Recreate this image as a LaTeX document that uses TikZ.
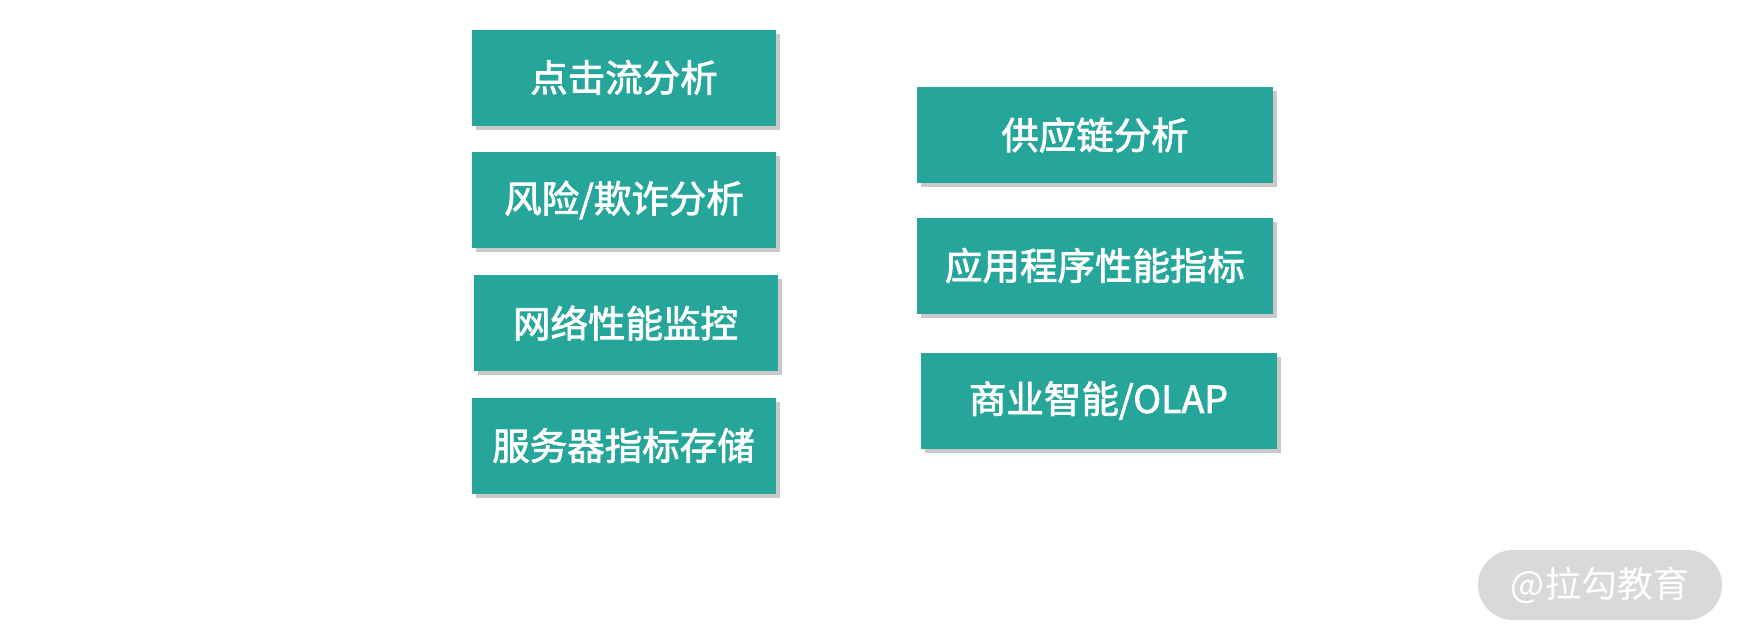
\documentclass[tikz,border=0pt]{standalone}
\usepackage{fontspec}
\setmainfont{Noto Sans CJK SC}
\newfontfamily\boxfont[FakeBold=2]{Noto Sans CJK SC}
\usepackage{tikz}
\usetikzlibrary{positioning,shadows}
\definecolor{boxfill}{HTML}{26A69A}
\definecolor{markfill}{HTML}{D9D9D9}

\begin{document}
\begin{tikzpicture}[
    x=1pt, y=-1pt,
    base/.style = {rectangle, inner sep=0pt, font=\boxfont\fontsize{37.5}{44}\selectfont},
    usecase/.style = {base, fill=boxfill, text=white, minimum height=96pt,
        drop shadow={shadow xshift=4pt, shadow yshift=-4pt, opacity=0.3, fill=black!70}},
    leftcase/.style = {usecase, minimum width=304pt},
    rightcase/.style = {usecase, minimum width=356pt},
    watermark/.style = {rectangle, rounded corners=35pt, fill=markfill, text=white,
        minimum width=244pt, minimum height=70pt, font=\fontsize{36}{42}\selectfont},
]
    \useasboundingbox (0,0) rectangle (1748,643);

    % left column
    \node[leftcase] (click) at (624,77.5) {点击流分析};
    \node[leftcase] (risk) at (624,200) {风险/欺诈分析};
    \node[leftcase] (network) at (625.5,323) {网络性能监控};
    \node[leftcase] (server) at (623.5,445.5) {服务器指标存储};

    % right column
    \node[rightcase] (supply) at (1095,135) {供应链分析};
    \node[rightcase] (apm) at (1095,265.5) {应用程序性能指标};
    \node[rightcase] (olap) at (1098.5,400.5) {商业智能/OLAP};

    % watermark
    \node[watermark] (mark) at (1600,585) {@拉勾教育};

\end{tikzpicture}
\end{document}
